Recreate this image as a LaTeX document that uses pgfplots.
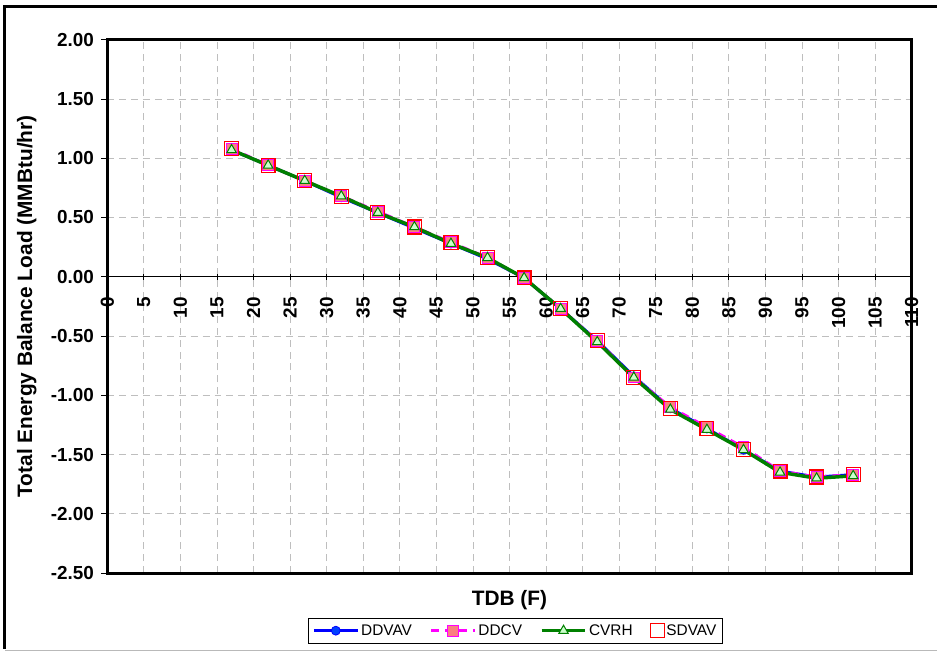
\documentclass[border=0pt]{standalone}
\usepackage{pgfplots}
\pgfplotsset{compat=1.18}
\usepackage{fontspec}
\setmainfont{Liberation Sans}

\definecolor{ddvav}{RGB}{0,0,255}
\definecolor{ddcv}{RGB}{255,0,255}
\definecolor{ddcvfill}{RGB}{250,128,128}
\definecolor{cvrh}{RGB}{0,128,0}
\definecolor{cvrhfill}{RGB}{204,255,204}
\definecolor{sdvav}{RGB}{255,0,0}
\definecolor{gridgray}{RGB}{190,190,190}

\begin{document}
\begin{tikzpicture}
\begin{axis}[
  name=ax,
  scale only axis,
  width=810pt, height=537pt,
  xmin=0, xmax=110, ymin=-2.5, ymax=2,
  xtick distance=5,
  ytick={-2.5,-2,-1.5,-1,-0.5,0,0.5,1,1.5,2},
  yticklabels={-2.50,-2.00,-1.50,-1.00,-0.50,0.00,0.50,1.00,1.50,2.00},
  axis x line=middle, axis y line=box,
  ytick pos=left,
  hide obscured x ticks=false, hide obscured y ticks=false,
  x axis line style={-, line width=1pt},
  y axis line style={-, line width=3pt},
  xtick align=center, ytick align=outside,
  major tick length=6pt,
  tick style={black, line width=0.8pt},
  grid=major,
  major grid style={gridgray, dash pattern=on 7pt off 5pt, line width=0.8pt},
  /pgf/number format/assume math mode=true,
  yticklabel style={font=\fontsize{19}{21}\selectfont\bfseries, xshift=-4pt},
  xticklabel style={yshift=-14pt, rotate=90, anchor=east,
    font=\fontsize{19}{21}\selectfont\bfseries},
  xlabel={TDB (F)},
  ylabel={Total Energy Balance Load (MMBtu/hr)},
  xlabel style={at={(axis description cs:0.5,0)}, anchor=north, yshift=-14pt,
    font=\fontsize{21}{23}\selectfont\bfseries},
  ylabel style={at={(axis description cs:-0.1,0.5)}, anchor=center,
    font=\fontsize{21}{23}\selectfont\bfseries},
  legend style={at={(axis description cs:0.5,0)}, anchor=north, yshift=-45pt, xshift=6pt,
    draw=black, line width=0.8pt, inner sep=4.5pt,
    font=\fontsize{15.5}{17}\selectfont, legend columns=4,
    /tikz/every even column/.append style={column sep=16pt}},
  legend cell align=left,
  legend image code/.code={
    \draw[mark repeat=2, mark phase=2] plot coordinates {(0pt,0pt) (22pt,0pt) (44pt,0pt)};
  },
  after end axis/.code={
    \draw[line width=3pt] (rel axis cs:0,0) rectangle (rel axis cs:1,1);
  },
]
% DDVAV
\addplot[color=ddvav, line width=3pt, mark=*, mark size=4.5pt,
  mark options={fill=ddvav!75!cyan, draw=ddvav, line width=0.8pt}]
  coordinates {(17,1.07) (22,0.94) (27,0.81) (32,0.67) (37,0.54) (42,0.41)
    (47,0.28) (52,0.15) (57,-0.01) (62,-0.27) (67,-0.54) (72,-0.84) (77,-1.11)
    (82,-1.28) (87,-1.46) (92,-1.64) (97,-1.69) (102,-1.67)};
\addlegendentry{DDVAV}
% DDCV
\addplot[color=ddcv, line width=3pt, dash pattern=on 8pt off 6pt, mark=square*, mark size=5.5pt,
  mark options={solid, fill=ddcvfill, draw=ddcv, line width=1pt}]
  coordinates {(17,1.08) (22,0.94) (27,0.81) (32,0.68) (37,0.55) (42,0.42)
    (47,0.29) (52,0.16) (57,-0.01) (62,-0.27) (67,-0.54) (72,-0.85) (77,-1.10)
    (82,-1.27) (87,-1.44) (92,-1.64) (97,-1.69) (102,-1.67)};
\addlegendentry{DDCV}
% CVRH
\addplot[color=cvrh, line width=3.5pt, mark=triangle*, mark size=5.5pt,
  mark options={fill=cvrhfill, draw=cvrh, line width=1pt}]
  coordinates {(17,1.07) (22,0.94) (27,0.81) (32,0.68) (37,0.54) (42,0.42)
    (47,0.28) (52,0.16) (57,-0.01) (62,-0.27) (67,-0.55) (72,-0.85) (77,-1.12)
    (82,-1.29) (87,-1.46) (92,-1.65) (97,-1.70) (102,-1.68)};
\addlegendentry{CVRH}
% SDVAV
\addplot[color=sdvav, only marks, mark=square, mark size=7pt,
  mark options={draw=sdvav, line width=1.2pt}]
  coordinates {(17,1.08) (22,0.94) (27,0.81) (32,0.68) (37,0.54) (42,0.42)
    (47,0.29) (52,0.16) (57,-0.01) (62,-0.27) (67,-0.54) (72,-0.85) (77,-1.11)
    (82,-1.28) (87,-1.46) (92,-1.64) (97,-1.69) (102,-1.67)};
\addlegendentry{SDVAV}
\end{axis}
% chart frame
\draw[gray!55, line width=1.2pt] ([xshift=-103pt,yshift=-78pt]ax.south west) -- ([xshift=25pt,yshift=-78pt]ax.south east);
\draw[line width=3pt] ([xshift=-103pt,yshift=-76pt]ax.south west) -- ([xshift=-103pt,yshift=33pt]ax.north west) -- ([xshift=25pt,yshift=33pt]ax.north east);
\path[use as bounding box] ([xshift=-108pt,yshift=-81pt]ax.south west) rectangle ([xshift=20pt,yshift=40pt]ax.north east);
\end{tikzpicture}
\end{document}
